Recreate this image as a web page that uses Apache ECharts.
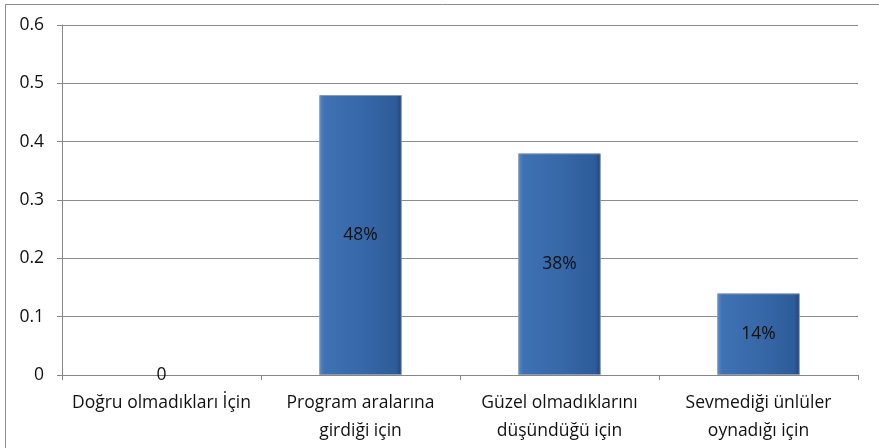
<!DOCTYPE html>
<html>
<head>
<meta charset="utf-8">
<script src="https://cdn.jsdelivr.net/npm/echarts@6/dist/echarts.min.js"></script>
<style>
html,body{margin:0;padding:0;background:#fff;}
#c{width:879px;height:448px;}
</style>
</head>
<body>
<div id="c"></div>
<script>
var categories = ["Doğru olmadıkları İçin", "Program aralarına\ngirdiği için", "Güzel olmadıklarını\ndüşündüğü için", "Sevmediği ünlüler\noynadığı için"];
var values = [0, 0.48, 0.38, 0.14];
var yTicks = { min: 0, max: 0.6, interval: 0.1 };

var chart = echarts.init(document.getElementById('c'), null, { renderer: 'canvas' });
var font = '"Open Sans", Lato, sans-serif';
chart.setOption({
  animation: false,
  backgroundColor: '#ffffff',
  graphic: [{
    type: 'rect',
    shape: { x: 5.5, y: 4.5, width: 900, height: 500 },
    style: { fill: 'none', stroke: '#8c8c8c', lineWidth: 1 },
    z: 100, silent: true
  }],
  grid: { left: 62, right: 21, top: 25, bottom: 73, containLabel: false },
  xAxis: {
    type: 'category',
    data: categories,
    axisLine: { lineStyle: { color: '#868686', width: 1 } },
    axisTick: { show: true, length: 5, alignWithLabel: false, lineStyle: { color: '#868686' } },
    axisLabel: { color: '#111', fontFamily: font, fontSize: 17.5, margin: 14, lineHeight: 28, interval: 0 },
    splitLine: { show: false }
  },
  yAxis: {
    type: 'value',
    min: yTicks.min, max: yTicks.max, interval: yTicks.interval,
    axisLine: { show: true, lineStyle: { color: '#868686', width: 1 } },
    axisTick: { show: true, length: 5, lineStyle: { color: '#868686' } },
    axisLabel: { color: '#111', fontFamily: font, fontSize: 17.5, margin: 18,
      formatter: function (v) { return v === 0 ? '0' : v.toFixed(1); } },
    splitLine: { show: true, lineStyle: { color: '#8c8c8c', width: 1 } }
  },
  series: [{
    type: 'bar',
    data: values.map(function (v) {
      return v === 0 ? { value: v, itemStyle: { borderWidth: 0, opacity: 0 } } : { value: v };
    }),
    barWidth: '41.5%',
    itemStyle: {
      color: {
        type: 'linear', x: 0, y: 0, x2: 1, y2: 0,
        colorStops: [
          { offset: 0, color: '#5a8cca' },
          { offset: 0.06, color: '#3f72b4' },
          { offset: 0.5, color: '#3768a8' },
          { offset: 0.93, color: '#2e5c9a' },
          { offset: 1, color: '#1f4478' }
        ]
      },
      borderColor: '#8a9bb2',
      borderWidth: 1
    },
    label: {
      show: true,
      position: 'inside',
      color: '#111',
      fontFamily: font,
      fontSize: 17.5,
      opacity: 1,
      formatter: function (p) { return p.value === 0 ? '0' : Math.round(p.value * 100) + '%'; }
    }
  }]
});
</script>
</body>
</html>
